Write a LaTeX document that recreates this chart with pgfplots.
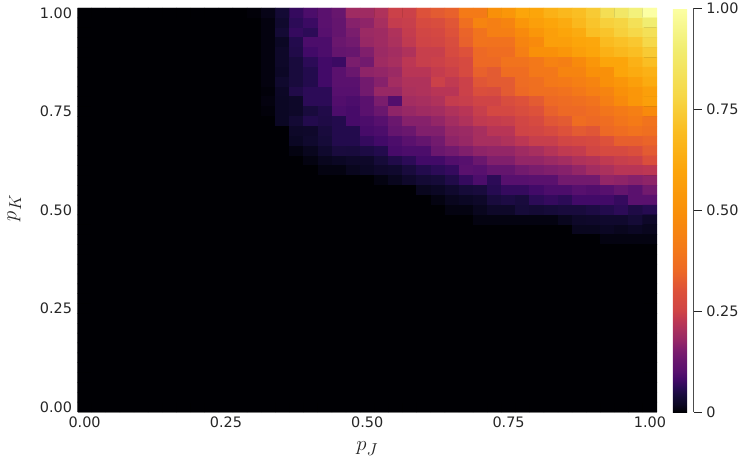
\documentclass[border=0pt]{standalone}
\usepackage{pgfplots}
\pgfplotsset{compat=1.18}
\usepackage{fontspec}
\setmainfont{DejaVu Sans}
\DeclareMathSizes{22}{22}{17}{12}
\pgfplotsset{colormap={infnl}{
rgb255(0pt)=(0,0,4); rgb255(8pt)=(11,7,36); rgb255(16pt)=(22,11,57); rgb255(24pt)=(40,11,84);
rgb255(32pt)=(66,10,104); rgb255(40pt)=(87,16,110); rgb255(52pt)=(106,23,110); rgb255(62pt)=(126,30,109);
rgb255(70pt)=(147,38,103); rgb255(80pt)=(167,47,95); rgb255(90pt)=(188,55,84); rgb255(100pt)=(207,68,70);
rgb255(120pt)=(221,81,58); rgb255(140pt)=(237,105,37); rgb255(160pt)=(243,120,25); rgb255(196pt)=(249,142,9);
rgb255(240pt)=(252,165,10); rgb255(280pt)=(250,190,35); rgb255(313pt)=(246,215,70); rgb255(360pt)=(241,237,113);
rgb255(400pt)=(252,255,164)}}
% values of the 41 x 41 cells, top row (p_K = 1) first, left column (p_J = 0) first
\def\zmat{
{0,0,0,0,0,0,0,0,0,0,0,0,.003,.012,.036,.07,.09,.105,.125,.19,.19,.21,.245,.245,.3,.32,.333,.41,.41,.5,.53,.6,.6,.65,.675,.7,.74,.82,.87,.92,1},
{0,0,0,0,0,0,0,0,0,0,0,0,0,.007,.03,.063,.075,.105,.12,.163,.17,.2,.235,.24,.275,.283,.31,.37,.45,.43,.45,.53,.57,.6,.625,.675,.72,.76,.775,.83,.9},
{0,0,0,0,0,0,0,0,0,0,0,0,0,.007,.036,.07,.063,.1,.12,.15,.185,.19,.21,.235,.258,.267,.3,.34,.385,.43,.43,.475,.53,.57,.6,.625,.7,.72,.76,.79,.83},
{0,0,0,0,0,0,0,0,0,0,0,0,0,.007,.02,.055,.09,.09,.13,.14,.18,.19,.205,.23,.25,.258,.283,.333,.385,.38,.38,.45,.475,.57,.57,.6,.61,.69,.71,.73,.79},
{0,0,0,0,0,0,0,0,0,0,0,0,0,.007,.025,.052,.08,.09,.12,.125,.157,.185,.195,.21,.24,.24,.275,.3,.35,.365,.365,.43,.5,.5,.53,.57,.6,.65,.675,.7,.74},
{0,0,0,0,0,0,0,0,0,0,0,0,0,.007,.025,.043,.063,.08,.075,.15,.14,.19,.2,.225,.24,.245,.258,.275,.35,.35,.385,.385,.4,.44,.43,.475,.53,.6,.6,.65,.7},
{0,0,0,0,0,0,0,0,0,0,0,0,0,.007,.022,.043,.055,.08,.105,.13,.17,.175,.185,.22,.22,.235,.245,.275,.333,.32,.365,.365,.4,.4,.45,.45,.5,.5,.6,.625,.65},
{0,0,0,0,0,0,0,0,0,0,0,0,0,.007,.03,.043,.055,.08,.105,.105,.14,.163,.195,.21,.21,.245,.23,.245,.31,.32,.32,.36,.37,.4,.41,.43,.45,.5,.53,.57,.625},
{0,0,0,0,0,0,0,0,0,0,0,0,0,.004,.022,.052,.063,.063,.1,.1,.14,.18,.18,.205,.21,.22,.22,.245,.29,.283,.32,.35,.37,.37,.38,.4,.43,.45,.5,.53,.57},
{0,0,0,0,0,0,0,0,0,0,0,0,0,.007,.02,.025,.063,.063,.095,.09,.105,.15,.095,.195,.2,.21,.235,.24,.25,.25,.283,.3,.32,.35,.36,.37,.385,.43,.475,.53,.57},
{0,0,0,0,0,0,0,0,0,0,0,0,0,.004,.02,.025,.043,.052,.09,.085,.105,.13,.17,.18,.19,.195,.21,.22,.24,.267,.267,.283,.3,.333,.35,.35,.365,.39,.41,.43,.475},
{0,0,0,0,0,0,0,0,0,0,0,0,0,0,.02,.036,.055,.05,.055,.085,.09,.1,.13,.163,.163,.175,.195,.21,.23,.235,.24,.258,.275,.31,.32,.365,.35,.365,.39,.41,.385},
{0,0,0,0,0,0,0,0,0,0,0,0,0,0,0,.025,.027,.043,.055,.055,.085,.09,.12,.13,.157,.157,.18,.185,.2,.22,.22,.25,.258,.275,.3,.32,.31,.35,.365,.38,.37},
{0,0,0,0,0,0,0,0,0,0,0,0,0,0,0,.02,.03,.04,.055,.055,.07,.08,.09,.105,.12,.14,.17,.18,.2,.2,.21,.225,.24,.24,.258,.267,.275,.3,.33,.33,.34},
{0,0,0,0,0,0,0,0,0,0,0,0,0,0,0,.008,.016,.03,.044,.043,.048,.055,.085,.09,.09,.13,.14,.157,.17,.175,.175,.19,.2,.215,.23,.235,.258,.275,.275,.29,.32},
{0,0,0,0,0,0,0,0,0,0,0,0,0,0,0,0,.008,.016,.02,.025,.025,.04,.052,.063,.08,.08,.095,.1,.13,.157,.157,.175,.175,.185,.195,.21,.215,.23,.24,.245,.29},
{0,0,0,0,0,0,0,0,0,0,0,0,0,0,0,0,0,.008,.008,.016,.02,.027,.03,.043,.055,.063,.07,.105,.1,.12,.12,.14,.15,.157,.163,.175,.195,.205,.22,.22,.225},
{0,0,0,0,0,0,0,0,0,0,0,0,0,0,0,0,0,0,0,0,0,.008,.016,.027,.036,.04,.052,.07,.09,.063,.1,.1,.105,.105,.14,.14,.14,.175,.17,.163,.17},
{0,0,0,0,0,0,0,0,0,0,0,0,0,0,0,0,0,0,0,0,0,0,0,0,.016,.02,.03,.04,.043,.058,.07,.07,.08,.09,.09,.1,.095,.1,.12,.105,.14},
{0,0,0,0,0,0,0,0,0,0,0,0,0,0,0,0,0,0,0,0,0,0,0,0,0,.008,.016,.02,.025,.043,.048,.043,.063,.07,.063,.08,.08,.08,.07,.105,.105},
{0,0,0,0,0,0,0,0,0,0,0,0,0,0,0,0,0,0,0,0,0,0,0,0,0,0,.008,.008,.016,.025,.025,.04,.036,.04,.043,.043,.048,.055,.063,.05,.058},
{0,0,0,0,0,0,0,0,0,0,0,0,0,0,0,0,0,0,0,0,0,0,0,0,0,0,0,0,.008,.008,.008,.008,.008,.008,.016,.025,.027,.03,.03,.038,.025},
{0,0,0,0,0,0,0,0,0,0,0,0,0,0,0,0,0,0,0,0,0,0,0,0,0,0,0,0,0,0,0,0,0,0,0,.016,.016,.02,.016,.02,.016},
{0,0,0,0,0,0,0,0,0,0,0,0,0,0,0,0,0,0,0,0,0,0,0,0,0,0,0,0,0,0,0,0,0,0,0,0,0,.008,.008,.008,.008},
{0,0,0,0,0,0,0,0,0,0,0,0,0,0,0,0,0,0,0,0,0,0,0,0,0,0,0,0,0,0,0,0,0,0,0,0,0,0,0,0,0},
{0,0,0,0,0,0,0,0,0,0,0,0,0,0,0,0,0,0,0,0,0,0,0,0,0,0,0,0,0,0,0,0,0,0,0,0,0,0,0,0,0},
{0,0,0,0,0,0,0,0,0,0,0,0,0,0,0,0,0,0,0,0,0,0,0,0,0,0,0,0,0,0,0,0,0,0,0,0,0,0,0,0,0},
{0,0,0,0,0,0,0,0,0,0,0,0,0,0,0,0,0,0,0,0,0,0,0,0,0,0,0,0,0,0,0,0,0,0,0,0,0,0,0,0,0},
{0,0,0,0,0,0,0,0,0,0,0,0,0,0,0,0,0,0,0,0,0,0,0,0,0,0,0,0,0,0,0,0,0,0,0,0,0,0,0,0,0},
{0,0,0,0,0,0,0,0,0,0,0,0,0,0,0,0,0,0,0,0,0,0,0,0,0,0,0,0,0,0,0,0,0,0,0,0,0,0,0,0,0},
{0,0,0,0,0,0,0,0,0,0,0,0,0,0,0,0,0,0,0,0,0,0,0,0,0,0,0,0,0,0,0,0,0,0,0,0,0,0,0,0,0},
{0,0,0,0,0,0,0,0,0,0,0,0,0,0,0,0,0,0,0,0,0,0,0,0,0,0,0,0,0,0,0,0,0,0,0,0,0,0,0,0,0},
{0,0,0,0,0,0,0,0,0,0,0,0,0,0,0,0,0,0,0,0,0,0,0,0,0,0,0,0,0,0,0,0,0,0,0,0,0,0,0,0,0},
{0,0,0,0,0,0,0,0,0,0,0,0,0,0,0,0,0,0,0,0,0,0,0,0,0,0,0,0,0,0,0,0,0,0,0,0,0,0,0,0,0},
{0,0,0,0,0,0,0,0,0,0,0,0,0,0,0,0,0,0,0,0,0,0,0,0,0,0,0,0,0,0,0,0,0,0,0,0,0,0,0,0,0},
{0,0,0,0,0,0,0,0,0,0,0,0,0,0,0,0,0,0,0,0,0,0,0,0,0,0,0,0,0,0,0,0,0,0,0,0,0,0,0,0,0},
{0,0,0,0,0,0,0,0,0,0,0,0,0,0,0,0,0,0,0,0,0,0,0,0,0,0,0,0,0,0,0,0,0,0,0,0,0,0,0,0,0},
{0,0,0,0,0,0,0,0,0,0,0,0,0,0,0,0,0,0,0,0,0,0,0,0,0,0,0,0,0,0,0,0,0,0,0,0,0,0,0,0,0},
{0,0,0,0,0,0,0,0,0,0,0,0,0,0,0,0,0,0,0,0,0,0,0,0,0,0,0,0,0,0,0,0,0,0,0,0,0,0,0,0,0},
{0,0,0,0,0,0,0,0,0,0,0,0,0,0,0,0,0,0,0,0,0,0,0,0,0,0,0,0,0,0,0,0,0,0,0,0,0,0,0,0,0},
{0,0,0,0,0,0,0,0,0,0,0,0,0,0,0,0,0,0,0,0,0,0,0,0,0,0,0,0,0,0,0,0,0,0,0,0,0,0,0,0,0}}
\gdef\coords{}
\foreach \r [count=\j from 0] in \zmat {
  \pgfmathsetmacro\yy{1-\j*0.025}
  \foreach \v [count=\i from 0] in \r {
    \pgfmathsetmacro\xx{\i*0.025}
    \xdef\coords{\coords (\xx,\yy)[\v]}
  }
}
\newcommand\tickfont{\fontsize{14.4}{16}\selectfont}
\begin{document}
\begin{tikzpicture}
\path[use as bounding box] (0,0) rectangle (747pt,467pt);
\begin{axis}[
  at={(77.5pt,55pt)}, anchor=south west, scale only axis,
  width=579.5pt, height=404pt,
  xmin=-0.0125, xmax=1.0125, ymin=-0.0125, ymax=1.0125,
  axis x line*=bottom, axis y line*=left,
  axis line style={draw=black!45, line width=0.4pt, -},
  axis background/.style={fill=black},
  xtick={0,0.25,0.5,0.75,1}, ytick={0,0.25,0.5,0.75,1},
  minor tick num=0,
  xticklabels={0.00,0.25,0.50,0.75,1.00}, yticklabels={0.00,0.25,0.50,0.75,1.00},
  major tick length=0pt,
  tick label style={font=\tickfont, text=black!85},
  x tick label style={yshift=-1pt},
  y tick label style={xshift=-2pt},
  xlabel={$p_J$}, ylabel={$p_K$},
  label style={font=\fontsize{22}{24}\selectfont, text=black!85},
  xlabel style={at={(axis description cs:0.5,-0.09)}, anchor=center},
  ylabel style={at={(axis description cs:-0.109,0.505)}, anchor=center},
  colormap name=infnl,
  point meta min=0, point meta max=1,
  colorbar,
  colorbar style={
    at={(1.0275,0.0)}, anchor=south west,
    width=21pt, height=404pt,
    scale only axis,
    axis x line=none, axis y line*=right,
    ytick={0,0.25,0.5,0.75,1},
    yticklabels={0,0.25,0.50,0.75,1.00},
    minor tick num=0,
    yticklabel pos=right,
    major tick length=8pt,
    tick style={draw=black!85, line width=0.9pt},
    tick align=outside,
    axis line style={draw=black!70, line width=0.9pt, -},
    tick label style={font=\tickfont, text=black!85},
    y tick label style={xshift=1pt},
  },
]
\edef\doplot{\noexpand\addplot[matrix plot*, mesh/cols=41, mesh/rows=41, mesh/ordering=x varies, point meta=explicit] coordinates {\coords};}
\doplot
\end{axis}
\end{tikzpicture}
\end{document}
